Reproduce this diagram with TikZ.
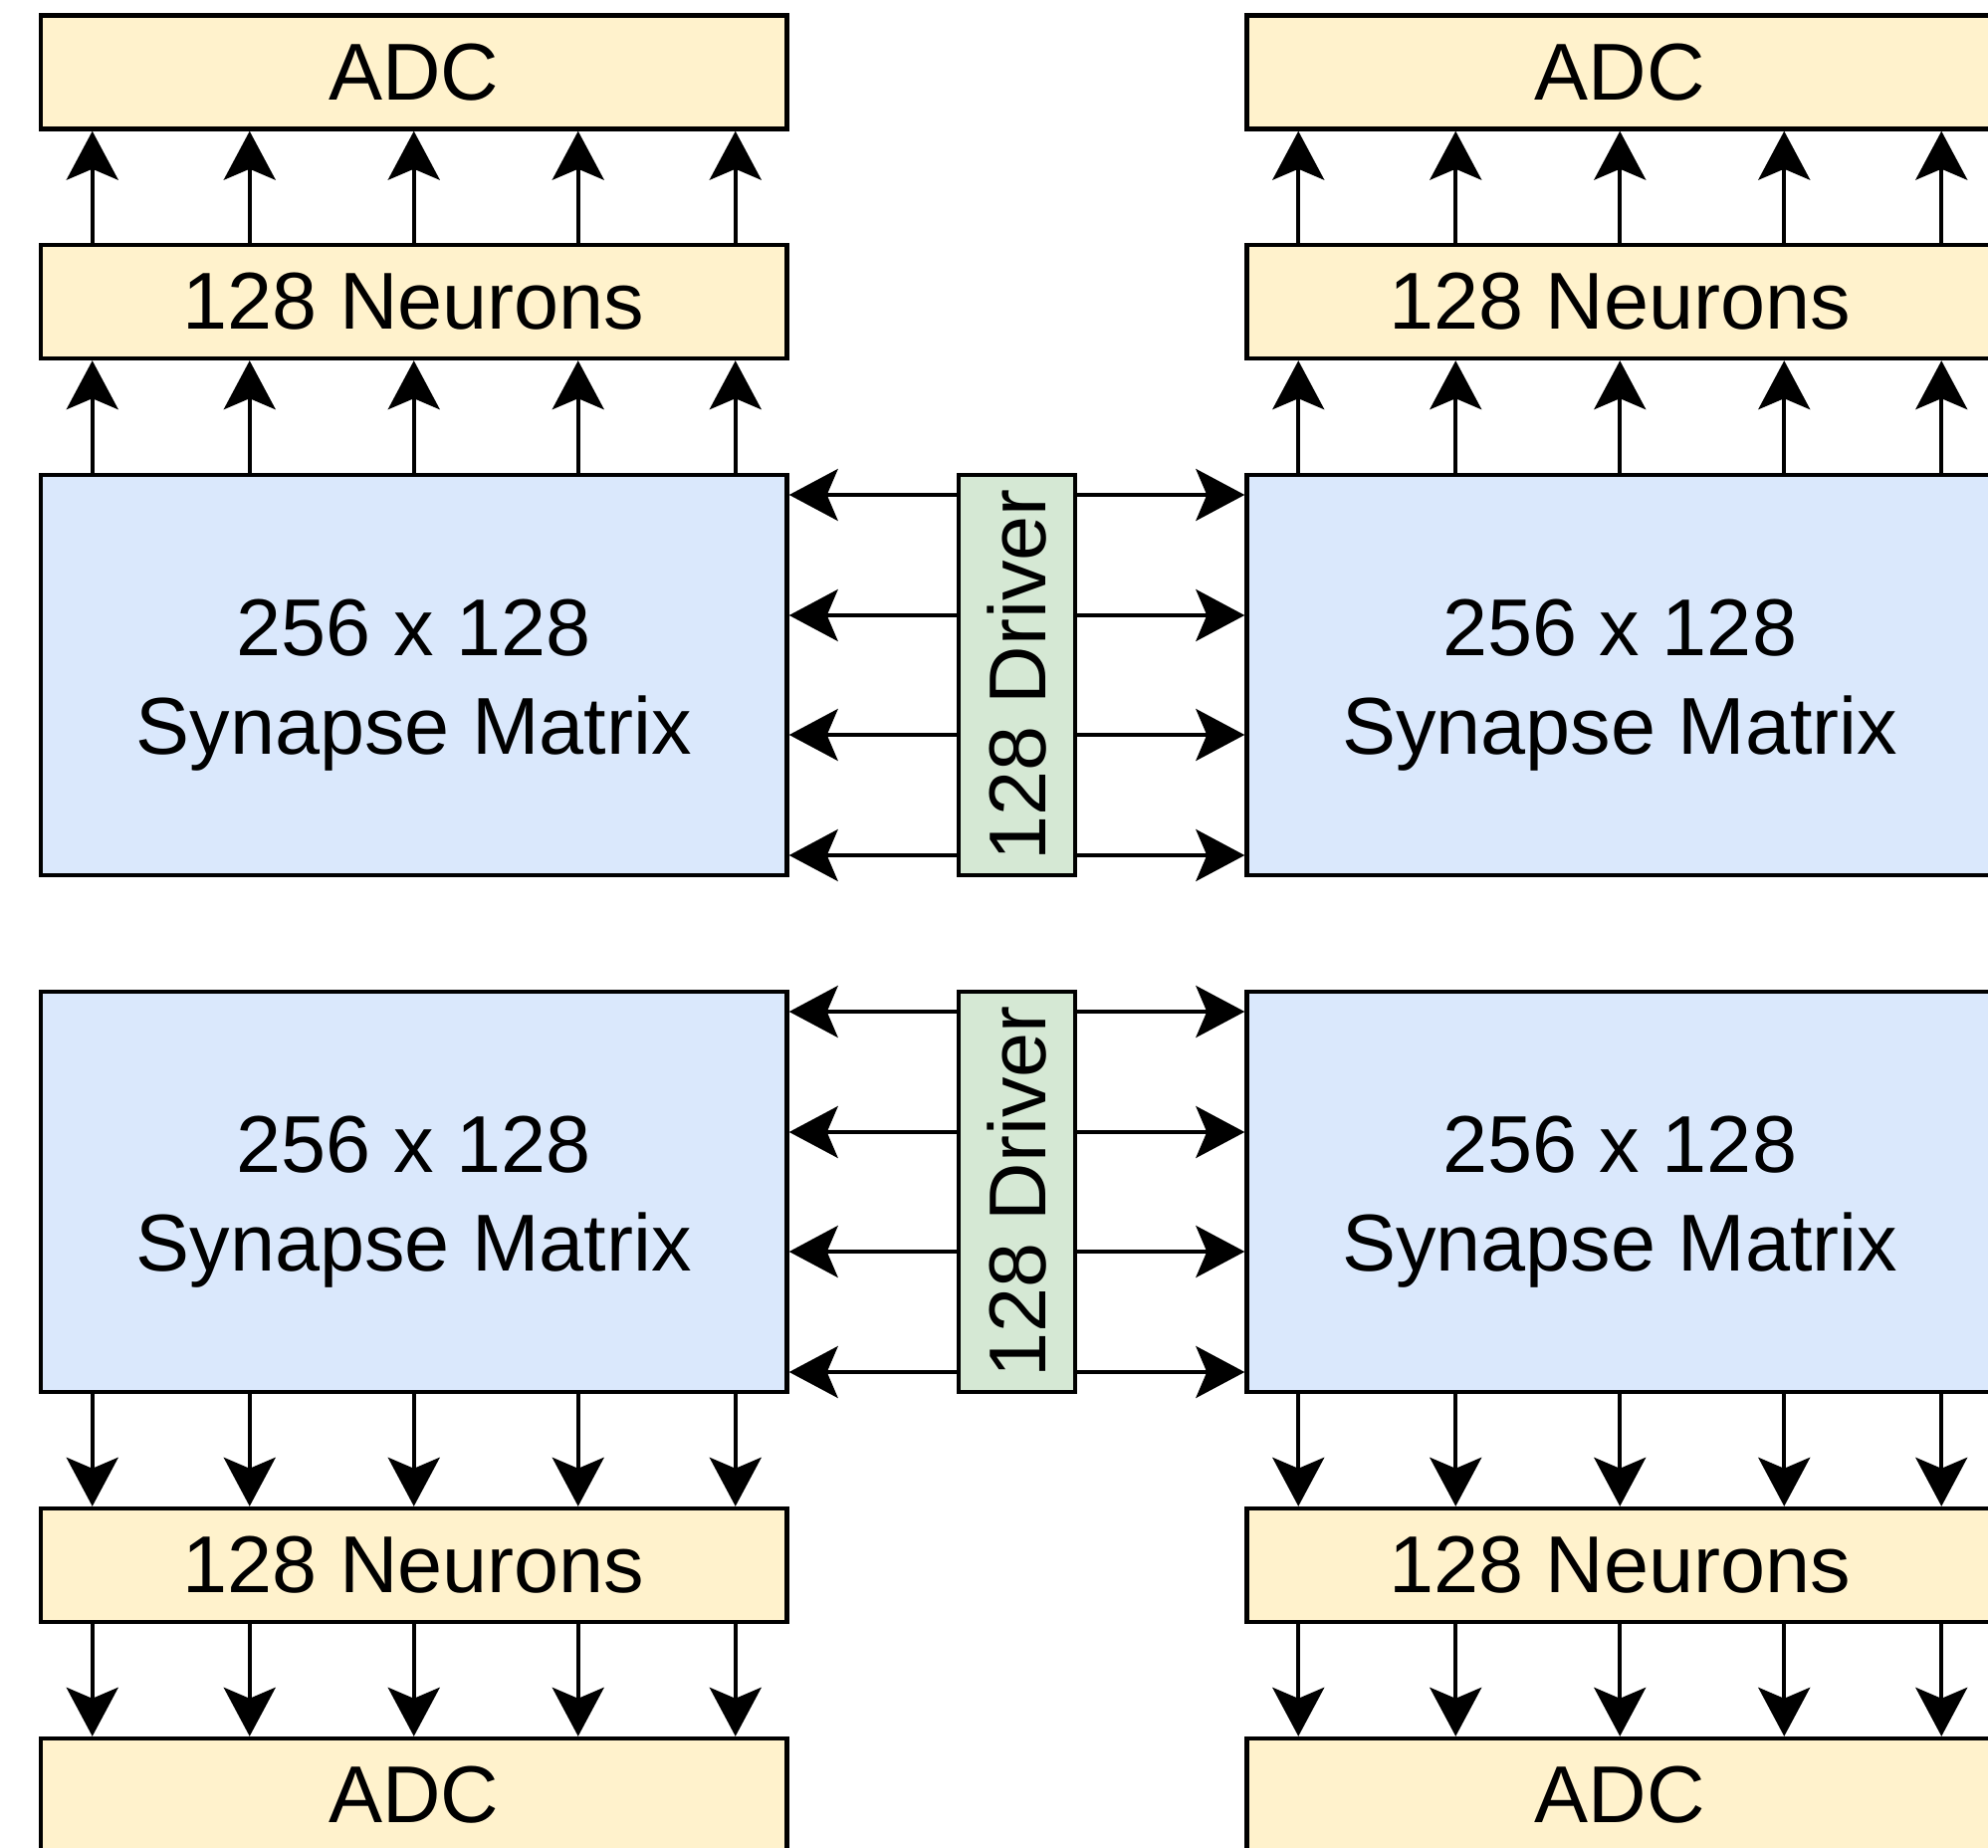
\documentclass[tikz,border=0pt]{standalone}
\usepackage{fontspec}
\usepackage{graphicx}
\setmainfont{Liberation Sans}
\usetikzlibrary{arrows.meta,calc}
\definecolor{yellowfill}{HTML}{FFF2CC}
\definecolor{bluefill}{HTML}{DAE8FC}
\definecolor{greenfill}{HTML}{D5E8D4}
\newcommand{\synlabel}{\raisebox{-5pt}[\height][\depth]{\begin{tabular}{@{}c@{}}256 x 128\\Synapse Matrix\end{tabular}}}
\begin{document}
\begin{tikzpicture}[x=0.5pt,y=-0.5pt,
  box/.style={draw=black,line width=2.2pt,inner sep=0pt,minimum width=374.75pt,
    font=\fontsize{40.5}{49.5}\selectfont,align=center},
  yel/.style={box,fill=yellowfill,minimum height=57pt},
  syn/.style={box,fill=bluefill,minimum height=201pt},
  drv/.style={box,fill=greenfill,minimum width=58.5pt,minimum height=201pt},
  conn/.style={line width=1.9pt,-{Stealth[length=24.5pt,width=26pt,inset=5.5pt]}}
]
\useasboundingbox (0,0) rectangle (1997,1856);
\clip (0,0) rectangle (1997,1856);
\fill[white] (0,0) rectangle (1997,1856);

% left column
\node[yel] (a1l) at (415.75,72.5) {ADC};
\node[yel] (n1l) at (415.75,303) {128 Neurons};
\node[syn] (s1l) at (415.75,678) {\synlabel};
\node[syn] (s2l) at (415.75,1197) {\synlabel};
\node[yel] (n2l) at (415.75,1572) {128 Neurons};
\node[yel] (a2l) at (415.75,1803) {ADC};

% right column
\node[yel] (a1r) at (1627.25,72.5) {ADC};
\node[yel] (n1r) at (1627.25,303) {128 Neurons};
\node[syn] (s1r) at (1627.25,678) {\synlabel};
\node[syn] (s2r) at (1627.25,1197) {\synlabel};
\node[yel] (n2r) at (1627.25,1572) {128 Neurons};
\node[yel] (a2r) at (1627.25,1803) {ADC};

% drivers
\node[drv] (d1) at (1021.5,678) {\rotatebox{90}{128 Driver}};
\node[drv] (d2) at (1021.5,1197) {\rotatebox{90}{128 Driver}};

% vertical connectors
\foreach \o in {-161.5pt,-82.5pt,0pt,82.5pt,161.5pt}{
  \draw[conn] ([xshift=\o]s1l.north) -- ([xshift=\o]n1l.south);
  \draw[conn] ([xshift=\o]n1l.north) -- ([xshift=\o]a1l.south);
  \draw[conn] ([xshift=\o]s1r.north) -- ([xshift=\o]n1r.south);
  \draw[conn] ([xshift=\o]n1r.north) -- ([xshift=\o]a1r.south);
  \draw[conn] ([xshift=\o]s2l.south) -- ([xshift=\o]n2l.north);
  \draw[conn] ([xshift=\o]n2l.south) -- ([xshift=\o]a2l.north);
  \draw[conn] ([xshift=\o]s2r.south) -- ([xshift=\o]n2r.north);
  \draw[conn] ([xshift=\o]n2r.south) -- ([xshift=\o]a2r.north);
}

% horizontal connectors from drivers
\foreach \o in {-90.5pt,-30pt,30pt,90.5pt}{
  \draw[conn] ([yshift=\o]d1.west) -- ([yshift=\o]s1l.east);
  \draw[conn] ([yshift=\o]d1.east) -- ([yshift=\o]s1r.west);
  \draw[conn] ([yshift=\o]d2.west) -- ([yshift=\o]s2l.east);
  \draw[conn] ([yshift=\o]d2.east) -- ([yshift=\o]s2r.west);
}
\end{tikzpicture}
\end{document}
